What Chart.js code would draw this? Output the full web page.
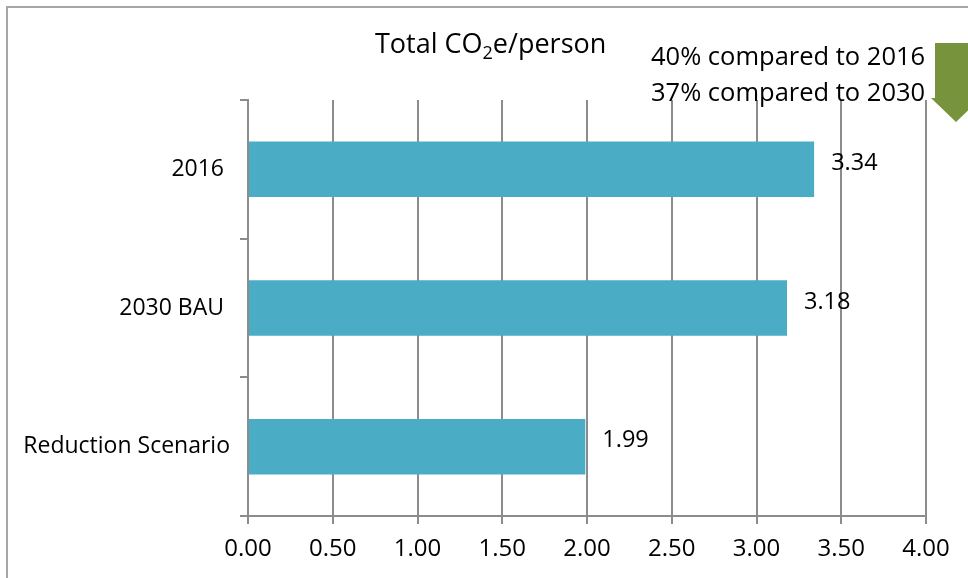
<!DOCTYPE html>
<html>
<head>
<meta charset="utf-8">
<script src="https://cdn.jsdelivr.net/npm/chart.js@4/dist/chart.umd.min.js"></script>
<style>
  html, body { margin: 0; padding: 0; background: #ffffff; }
  #wrap { position: relative; width: 968px; height: 578px; }
</style>
</head>
<body>
<div id="wrap"><canvas id="c" width="968" height="578"></canvas></div>
<script>
// Per-person emissions by scenario
const categories = ['2016 ', '2030 BAU ', 'Reduction Scenario'];
const co2ePerPerson = [3.34, 3.18, 1.99];
const xTickValues = [0, 0.5, 1, 1.5, 2, 2.5, 3, 3.5, 4];
const reductionNotes = ['40% compared to 2016', '37% compared to 2030'];

const FONT = '"Open Sans", Lato, sans-serif';
const TEXT = '#000000';
const GRID = '#8c8c8c';
const BAR = '#4bacc6';
const ARROW = '#77933c';

// Outer frame of the chart object
const framePlugin = {
  id: 'frame',
  beforeDraw(chart) {
    const ctx = chart.ctx;
    ctx.save();
    ctx.fillStyle = '#ffffff';
    ctx.fillRect(0, 0, chart.width, chart.height);
    ctx.strokeStyle = '#a6a6a6';
    ctx.lineWidth = 2;
    ctx.strokeRect(7, 7, chart.width + 20, chart.height + 20);
    ctx.restore();
  }
};

// Title with a subscript 2, reduction notes and the down arrow
const headerPlugin = {
  id: 'header',
  afterDraw(chart) {
    const ctx = chart.ctx;
    ctx.save();
    ctx.fillStyle = TEXT;
    ctx.textBaseline = 'alphabetic';
    ctx.textAlign = 'left';

    const big = '27px ' + FONT;
    const small = '18px ' + FONT;
    let x = 375;
    const base = 53;
    ctx.font = big;
    ctx.fillText('Total CO', x, base);
    x += ctx.measureText('Total CO').width;
    ctx.font = small;
    ctx.fillText('2', x, base + 6);
    x += ctx.measureText('2').width;
    ctx.font = big;
    ctx.fillText('e/person', x, base);

    ctx.font = '25.5px ' + FONT;
    ctx.fillText(reductionNotes[0], 651, 65);
    ctx.fillText(reductionNotes[1], 651, 101);

    // green down arrow
    const cx = 956;
    ctx.fillStyle = ARROW;
    ctx.beginPath();
    ctx.moveTo(cx - 21, 43);
    ctx.lineTo(cx + 21, 43);
    ctx.lineTo(cx + 21, 98);
    ctx.lineTo(cx + 25, 98);
    ctx.lineTo(cx, 122);
    ctx.lineTo(cx - 25, 98);
    ctx.lineTo(cx - 21, 98);
    ctx.closePath();
    ctx.fill();
    ctx.restore();
  }
};

// Value labels just past the end of each bar
const valueLabelPlugin = {
  id: 'valueLabels',
  afterDatasetsDraw(chart) {
    const ctx = chart.ctx;
    const meta = chart.getDatasetMeta(0);
    const data = chart.data.datasets[0].data;
    ctx.save();
    ctx.font = '23.5px ' + FONT;
    ctx.fillStyle = TEXT;
    ctx.textAlign = 'left';
    ctx.textBaseline = 'middle';
    meta.data.forEach((bar, i) => {
      ctx.fillText(data[i].toFixed(2), bar.x + 17, bar.y - 6);
    });
    ctx.restore();
  }
};

new Chart(document.getElementById('c'), {
  type: 'bar',
  data: {
    labels: categories,
    datasets: [{
      data: co2ePerPerson,
      backgroundColor: BAR,
      borderWidth: 0,
      categoryPercentage: 1,
      barPercentage: 0.4
    }]
  },
  options: {
    indexAxis: 'y',
    responsive: false,
    animation: false,
    devicePixelRatio: 1,
    layout: { padding: { top: 100, right: 42, left: 0, bottom: 0 } },
    plugins: {
      legend: { display: false },
      tooltip: { enabled: false },
      title: { display: false }
    },
    scales: {
      x: {
        type: 'linear',
        min: 0,
        max: 4,
        afterBuildTicks(scale) {
          scale.ticks = xTickValues.map(v => ({ value: v }));
        },
        afterFit(scale) { scale.height = 62; },
        grid: {
          color: GRID,
          lineWidth: 2,
          drawTicks: true,
          tickLength: 8,
          tickColor: GRID
        },
        border: { display: true, color: GRID, width: 2 },
        ticks: {
          color: TEXT,
          font: { family: FONT, size: 24 },
          padding: 11,
          maxRotation: 0,
          callback: v => Number(v).toFixed(2)
        }
      },
      y: {
        afterFit(scale) { scale.width = 248; },
        grid: {
          display: true,
          drawOnChartArea: false,
          drawTicks: true,
          tickLength: 8,
          color: GRID,
          lineWidth: 2,
          offset: true
        },
        border: { display: true, color: GRID, width: 2 },
        ticks: {
          color: TEXT,
          font: { family: FONT, size: 23 },
          padding: 10
        }
      }
    }
  },
  plugins: [framePlugin, headerPlugin, valueLabelPlugin]
});
</script>
</body>
</html>
